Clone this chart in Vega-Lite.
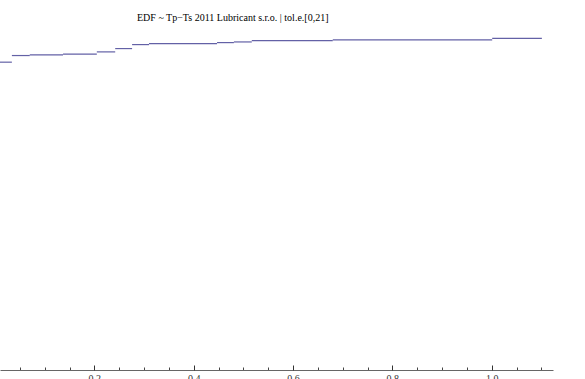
{
  "$schema": "https://vega.github.io/schema/vega-lite/v6.json",
  "width": 553,
  "height": 340,
  "autosize": {"type": "none"},
  "padding": {"left": 0, "top": 30, "right": 32, "bottom": 9},
  "background": "white",
  "title": {
    "text": "EDF ~ Tp\u2212Ts 2011 Lubricant s.r.o. | tol.e.[0,21]",
    "font": "Liberation Serif",
    "fontSize": 10,
    "fontWeight": "normal",
    "color": "#000000",
    "anchor": "start",
    "dx": 142,
    "offset": -1,
    "baseline": "alphabetic"
  },
  "config": {"view": {"stroke": null}},
  "data": {
    "values": [
      {"start": 0.0, "end": 0.034, "F": 0.928},
      {"start": 0.034, "end": 0.070, "F": 0.948},
      {"start": 0.070, "end": 0.137, "F": 0.950},
      {"start": 0.137, "end": 0.205, "F": 0.952},
      {"start": 0.205, "end": 0.242, "F": 0.959},
      {"start": 0.242, "end": 0.276, "F": 0.969},
      {"start": 0.276, "end": 0.310, "F": 0.981},
      {"start": 0.310, "end": 0.447, "F": 0.984},
      {"start": 0.447, "end": 0.481, "F": 0.987},
      {"start": 0.481, "end": 0.517, "F": 0.989},
      {"start": 0.517, "end": 0.680, "F": 0.993},
      {"start": 0.680, "end": 1.001, "F": 0.995},
      {"start": 1.001, "end": 1.101, "F": 1.0}
    ]
  },
  "layer": [
    {
      "mark": {"type": "rule", "color": "#6361a6", "strokeWidth": 1.2, "clip": true},
      "encoding": {
        "x": {
          "field": "start", "type": "quantitative",
          "scale": {"domain": [0.01007, 1.1234], "nice": false, "zero": false},
          "axis": {
            "orient": "bottom",
            "values": [0.05, 0.1, 0.15, 0.25, 0.3, 0.35, 0.45, 0.5, 0.55, 0.65, 0.7, 0.75, 0.85, 0.9, 0.95, 1.05, 1.1],
            "labels": false, "grid": false, "title": null,
            "domain": true, "domainColor": "#666666", "domainWidth": 1,
            "tickSize": -3, "tickColor": "#444444", "tickWidth": 1
          }
        },
        "x2": {"field": "end"},
        "y": {
          "field": "F", "type": "quantitative",
          "scale": {"domain": [0, 1.025], "nice": false, "zero": false},
          "axis": null
        }
      }
    },
    {
      "mark": {"type": "rule", "opacity": 0},
      "encoding": {
        "x": {
          "field": "start", "type": "quantitative",
          "axis": {
            "orient": "bottom",
            "values": [0.2, 0.4, 0.6, 0.8, 1.0],
            "format": ".1f",
            "grid": false, "title": null, "domain": false,
            "tickSize": -5, "tickColor": "#333333", "tickWidth": 1,
            "labelFont": "Liberation Serif", "labelFontSize": 10, "labelColor": "#333333",
            "labelPadding": 8, "labelBaseline": "top"
          }
        },
        "y": {"field": "F", "type": "quantitative"}
      }
    }
  ],
  "resolve": {"axis": {"x": "independent"}}
}
